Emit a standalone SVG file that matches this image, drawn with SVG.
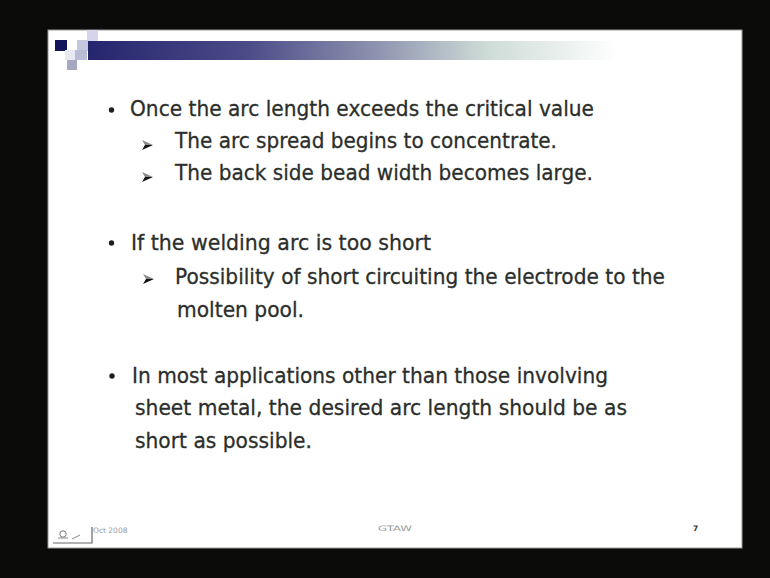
<svg xmlns="http://www.w3.org/2000/svg" width="770" height="578" viewBox="0 0 770 578">
  <defs>
    <linearGradient id="titleBar" x1="0" y1="0" x2="1" y2="0">
      <stop offset="0" stop-color="#25256e"/>
      <stop offset="0.3" stop-color="#4b4b88"/>
      <stop offset="0.55" stop-color="#8f95b0"/>
      <stop offset="0.75" stop-color="#cddbd6"/>
      <stop offset="1" stop-color="#ffffff"/>
    </linearGradient>
    <!-- 3D arrowhead used for sub-points -->
    <g id="subArrow">
      <path d="M0,-5 L11,0 L3,0 Z" fill="#8a8a8a"/>
      <path d="M3,0 L11,0 L0,5 Z" fill="#111"/>
    </g>
    <style>
      .body { font-family: "DejaVu Sans", Verdana, sans-serif; font-size: 22px; fill: #2b2e2b; stroke: #2b2e2b; stroke-width: 0.3px; }
      .foot { font-family: "DejaVu Sans", Verdana, sans-serif; font-size: 7.5px; fill: #9a9a9a; }
      .dot { fill: #1e1e1e; }
    </style>
  </defs>

  <!-- screen surround -->
  <rect x="0" y="0" width="770" height="578" fill="#0b0b09"/>

  <!-- slide -->
  <g id="slide">
    <rect x="48" y="30" width="694" height="518" fill="#ffffff"/>
    <rect x="48" y="30" width="694" height="518" fill="none" stroke="#9a9a9a" stroke-width="1"/>
  </g>

  <!-- pixel ornament and title bar -->
  <g id="header">
    <rect x="88" y="41" width="530" height="19" fill="url(#titleBar)"/>
    <rect x="55" y="40" width="12" height="11" fill="#14145a"/>
    <rect x="87" y="30" width="11" height="11" fill="#d4d4ec"/>
    <rect x="77" y="40" width="11" height="11" fill="#c4c8de"/>
    <rect x="75" y="50" width="12" height="10" fill="#b8bcd4"/>
    <rect x="67" y="60" width="10" height="10" fill="#a6a8c2"/>
    <rect x="65" y="50" width="10" height="10" fill="#e6e8f2"/>
  </g>

  <!-- bullet 1 -->
  <g id="point-critical">
    <circle class="dot" cx="111.5" cy="110" r="2.7"/>
    <text class="body" x="130" y="116" textLength="464" lengthAdjust="spacingAndGlyphs">Once the arc length exceeds the critical value</text>
    <use href="#subArrow" x="142" y="145"/>
    <text class="body" x="175" y="148" textLength="382" lengthAdjust="spacingAndGlyphs">The arc spread begins to concentrate.</text>
    <use href="#subArrow" x="142" y="177"/>
    <text class="body" x="175" y="180" textLength="418" lengthAdjust="spacingAndGlyphs">The back side bead width becomes large.</text>
  </g>

  <!-- bullet 2 -->
  <g id="point-short">
    <circle class="dot" cx="111.5" cy="243" r="2.7"/>
    <text class="body" x="131" y="250" textLength="300" lengthAdjust="spacingAndGlyphs">If the welding arc is too short</text>
    <use href="#subArrow" x="143" y="279"/>
    <text class="body" x="175" y="284" textLength="490" lengthAdjust="spacingAndGlyphs">Possibility of short circuiting the electrode to the</text>
    <text class="body" x="177" y="317" textLength="127" lengthAdjust="spacingAndGlyphs">molten pool.</text>
  </g>

  <!-- bullet 3 -->
  <g id="point-length">
    <circle class="dot" cx="112" cy="376" r="2.7"/>
    <text class="body" x="132" y="383" textLength="476" lengthAdjust="spacingAndGlyphs">In most applications other than those involving</text>
    <text class="body" x="135" y="415" textLength="492" lengthAdjust="spacingAndGlyphs">sheet metal, the desired arc length should be as</text>
    <text class="body" x="135" y="448" textLength="177" lengthAdjust="spacingAndGlyphs">short as possible.</text>
  </g>

  <!-- footer -->
  <g id="footer">
    <path d="M53,543 L92,543 L92,527" fill="none" stroke="#666" stroke-width="1.2"/>
    <circle cx="63" cy="534" r="3.2" fill="none" stroke="#777" stroke-width="1"/>
    <path d="M58,538 L68,538 M72,539 L80,535" fill="none" stroke="#888" stroke-width="1"/>
    <text class="foot" x="93" y="533">Oct  2008</text>
    <text class="foot" x="378" y="531" textLength="34" lengthAdjust="spacingAndGlyphs">GTAW</text>
    <text class="foot" x="693" y="531" style="fill:#333;font-weight:bold">7</text>
  </g>
</svg>
